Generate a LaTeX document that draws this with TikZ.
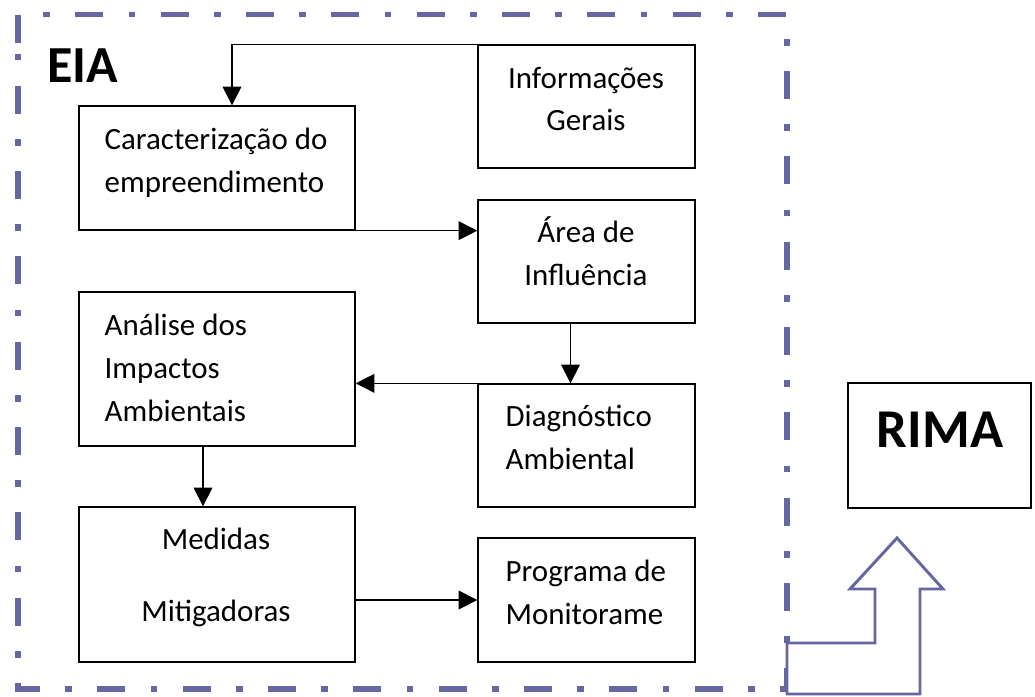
\documentclass[tikz,border=0pt]{standalone}
\usepackage{fontspec}
\setmainfont{Carlito}
\usetikzlibrary{arrows.meta,positioning,calc}
\tikzset{>={Triangle[length=14pt,width=14pt]}}
\definecolor{eiablue}{RGB}{102,102,163}

\begin{document}
\begin{tikzpicture}[x=0.75pt,y=-0.75pt,line width=1pt,
  box/.style={draw,minimum width=207pt,inner sep=0pt},
  rbox/.style={draw,minimum width=162.75pt,minimum height=92.25pt,inner sep=0pt},
  txt/.style={inner sep=0pt,font=\fontsize{23.2pt}{32pt}\selectfont}]

\useasboundingbox (0,0) rectangle (1035,696);

% frame of the EIA
\draw[eiablue,line width=4pt,dash pattern=on 21pt off 19pt on 5pt off 19pt]
  (18,42.5) -- (18,14.5) -- (787,14.5) -- (787,689) -- (18,689) -- cycle;
\node [inner sep=0pt,anchor=base,font=\fontsize{39pt}{39pt}\selectfont\bfseries] (eia) at (82.5,82) {EIA};

\node [rbox] (info) at (586.5,106.5) {};
\node [box,minimum height=93pt] (cara) at (217,168) {};
\node [rbox] (area) at (586.5,261.5) {};
\node [box,minimum height=115.5pt] (anal) at (217,369) {};
\node [rbox] (diag) at (586.5,445.5) {};
\node [box,minimum height=116.25pt] (med) at (217,584.5) {};
\node [rbox,minimum height=93pt] (prog) at (586.5,600) {};

\node [txt,align=center] (infotxt) at (586,99) {Informações\\Gerais};
\node [txt,align=left,anchor=west] (caratxt) at (104,162.5) {Caracterização do\\empreendimento};
\node [txt,align=center] (areatxt) at (586,251) {Área de\\Influência};
\node [txt,align=left,anchor=west] (analtxt) at (104,368) {Análise dos\\Impactos\\Ambientais};
\node [txt,align=left,anchor=west] (diagtxt) at (505,437.5) {Diagnóstico\\Ambiental};
\node [txt,align=center] (medtxt) at (216,577.5) {Medidas\\[22pt]Mitigadoras};
\node [txt,align=left,anchor=west] (progtxt) at (505,592.5) {Programa de\\Monitorame};

\begin{scope}[->]
\draw (info.north west) -| ([xshift=11.25pt]cara.north);
\draw (cara.south east) -- (cara.south east -| area.west);
\draw ([xshift=-12pt]area.south) -- ([xshift=-12pt]diag.north);
\draw (diag.north west) -- (diag.north west -| anal.east);
\draw ([xshift=-10.5pt]anal.south) -- ([xshift=-10.5pt]med.north);
\draw (prog.west -| med.east) -- (prog.west);
\end{scope}

% RIMA and the arrow into it
\node [draw,line width=2.2pt,minimum width=137.25pt,minimum height=93.75pt] (rima) at (939.5,445.5) {};
\node [inner sep=0pt,anchor=base,font=\fontsize{41pt}{41pt}\selectfont\bfseries] (rimatxt) at (940,447) {RIMA};
\draw[eiablue,line width=2.2pt,fill=white] (787,694) -- (787,643) -- (875,643) -- (875,589)
  -- (850,589) -- (897,538) -- (943,589) -- (920,589) -- (920,694) -- cycle;

\end{tikzpicture}
\end{document}
